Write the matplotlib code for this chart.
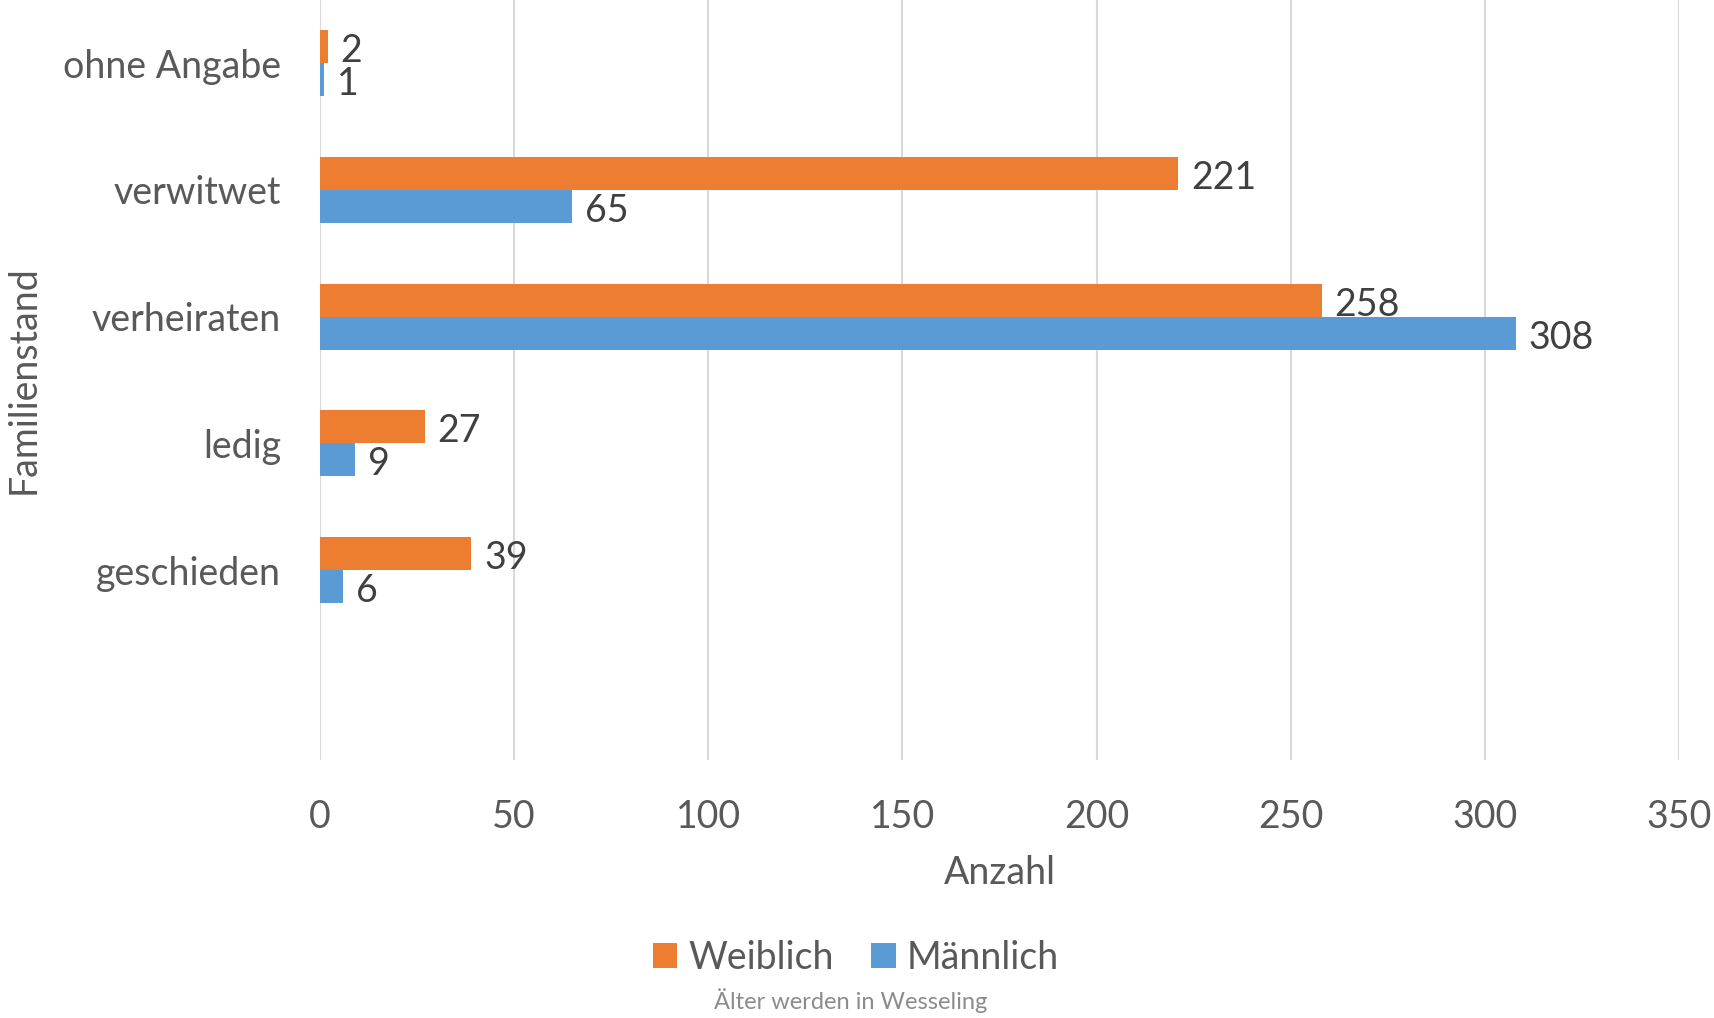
import matplotlib
matplotlib.use("Agg")
import matplotlib.pyplot as plt
import numpy as np

categories = ["ohne Angabe", "verwitwet", "verheiraten", "ledig", "geschieden", ""]
weiblich = [2, 221, 258, 27, 39, None]
maennlich = [1, 65, 308, 9, 6, None]
series_names = ["Weiblich", "Männlich"]
xticks = [0, 50, 100, 150, 200, 250, 300, 350]

plt.rcParams['font.family'] = ['Lato', 'DejaVu Sans']

W, H = 1715, 1018
fig = plt.figure(figsize=(W/100, H/100), dpi=100)
left, right, top, bottom = 320, 1679, 0, 760
ax = fig.add_axes([left/W, 1-bottom/H, (right-left)/W, (bottom-top)/H])

orange = "#ED7D31"
blue = "#5B9BD5"
txt = "#595959"
lab = "#404040"

y = np.arange(len(categories))
bh = 0.26
wv = [v if v is not None else 0 for v in weiblich]
mv = [v if v is not None else 0 for v in maennlich]
b1 = ax.barh(y - bh/2, wv, height=bh, color=orange, label=series_names[0], zorder=3)
b2 = ax.barh(y + bh/2, mv, height=bh, color=blue, label=series_names[1], zorder=3)

dy = 0.035
for yi, v in zip(y, weiblich):
    if v is not None:
        ax.text(v + 3.3, yi - bh/2 + dy, str(v), va='center', ha='left', fontsize=27, color=lab)
for yi, v in zip(y, maennlich):
    if v is not None:
        ax.text(v + 3.3, yi + bh/2 + dy, str(v), va='center', ha='left', fontsize=27, color=lab)

ax.set_xlim(0, 350)
ax.set_ylim(len(categories) - 0.5, -0.5)
ax.set_xticks(xticks)
ax.set_xticklabels([str(t) for t in xticks])
ax.set_yticks(y)
ax.set_yticklabels(categories)
ax.tick_params(axis='x', length=0, pad=28, labelsize=27, labelcolor=txt)
ax.tick_params(axis='y', length=0, pad=28, labelsize=27, labelcolor=txt)
ax.grid(axis='x', color='#D9D9D9', linewidth=1.5, zorder=0)
for s in ax.spines.values():
    s.set_visible(False)

fig.text((left+right)/2/W, 1-873/H, "Anzahl", ha='center', va='center', fontsize=27, color=txt)
fig.text(24/W, 1-380/H, "Familienstand", ha='center', va='center', rotation=90, fontsize=27, color=txt)

leg = fig.legend(handles=[b1, b2], labels=series_names, loc='center', bbox_to_anchor=(856/W, 1-958/H),
                 ncol=2, frameon=False, fontsize=27, handlelength=0.65, handleheight=0.65,
                 handletextpad=0.3, columnspacing=1.0)
for t in leg.get_texts():
    t.set_color(txt)

fig.text(851/W, 1-1001/H, "Älter werden in Wesseling", ha='center', va='center', fontsize=17, color='#8C8C8C')

fig.savefig("out.png", dpi=100, facecolor='white')
